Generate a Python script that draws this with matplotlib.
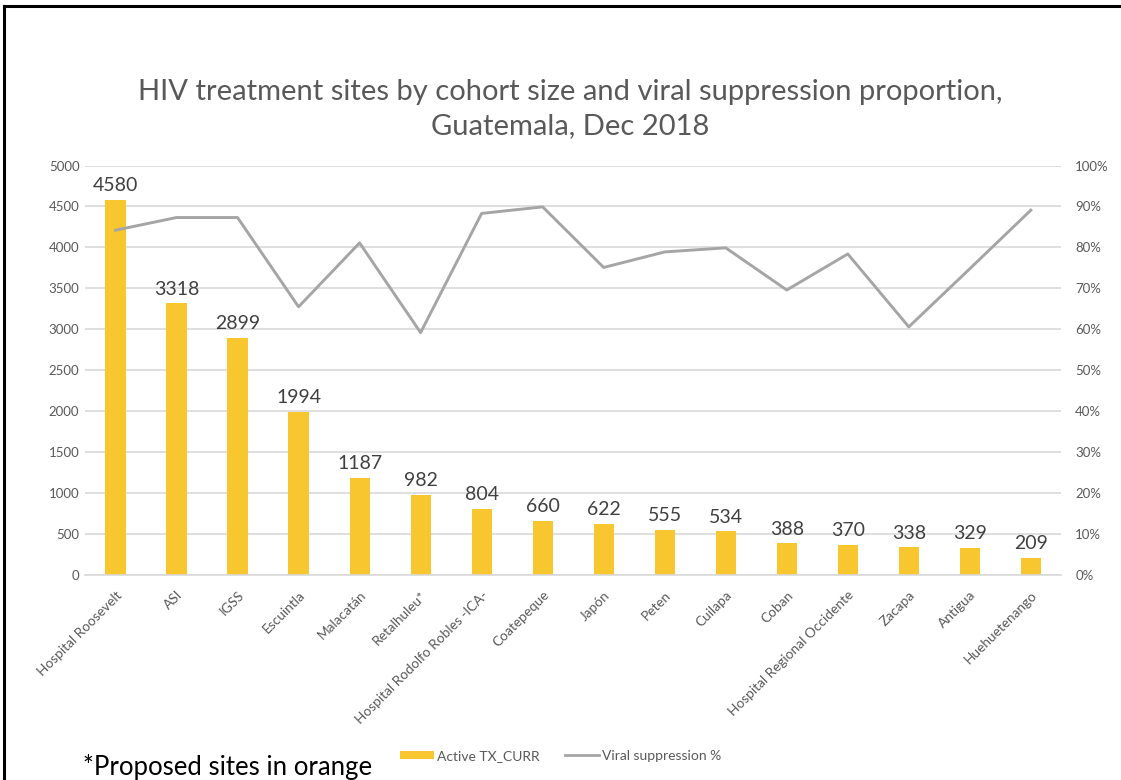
import matplotlib
matplotlib.use("Agg")
import matplotlib.pyplot as plt
from matplotlib.lines import Line2D
from matplotlib.patches import Patch
from matplotlib.ticker import FuncFormatter, MultipleLocator

sites = ["Hospital Roosevelt", "ASI", "IGSS", "Escuintla", "Malacatán",
         "Retalhuleu*", "Hospital Rodolfo Robles -ICA-", "Coatepeque", "Japón",
         "Peten", "Cuilapa", "Coban", "Hospital Regional Occidente", "Zacapa",
         "Antigua", "Huehuetenango"]
active_tx_curr = [4580, 3318, 2899, 1994, 1187, 982, 804, 660, 622, 555,
                  534, 388, 370, 338, 329, 209]
viral_suppression = [84.2, 87.3, 87.3, 65.5, 81.1, 59.2, 88.3, 89.9, 75.1,
                     78.9, 79.9, 69.6, 78.4, 60.6, 74.8, 89.1]

title = "HIV treatment sites by cohort size and viral suppression proportion,\nGuatemala, Dec 2018"
bar_color = "#F8C62F"
line_color = "#A5A5A5"
grid_color = "#D9D9D9"
text_gray = "#595959"

plt.rcParams["font.family"] = ["Lato", "DejaVu Sans"]

fig = plt.figure(figsize=(11.21, 7.80), dpi=100)
ax = fig.add_axes([0.0758, 0.2628, 0.871, 0.525])
ax2 = ax.twinx()

x = list(range(len(sites)))
ax.bar(x, active_tx_curr, width=0.33, color=bar_color, zorder=2)
for xi, v in zip(x, active_tx_curr):
    ax.text(xi, v + 70, str(v), ha="center", va="bottom", fontsize=14,
            color="#404040")

ax2.plot(x, viral_suppression, color=line_color, lw=2.1, zorder=3)

ax.set_xlim(-0.5, len(sites) - 0.5)
ax.set_ylim(0, 5000)
ax2.set_ylim(0, 100)
ax.yaxis.set_major_locator(MultipleLocator(500))
ax2.yaxis.set_major_locator(MultipleLocator(10))
ax2.yaxis.set_major_formatter(FuncFormatter(lambda v, p: f"{v:.0f}%"))

ax.grid(axis="y", color=grid_color, lw=1.2, zorder=0)
ax.set_axisbelow(True)
for a in (ax, ax2):
    for s in a.spines.values():
        s.set_visible(False)
ax.spines["bottom"].set_visible(True)
ax.spines["bottom"].set_color(grid_color)
ax.spines["bottom"].set_linewidth(1.2)

ax.set_xticks(x)
ax.set_xticklabels(sites, rotation=45, ha="right", rotation_mode="anchor",
                   fontsize=9.8, color=text_gray)
ax.tick_params(axis="x", length=0, pad=10)
ax.tick_params(axis="y", length=0, labelsize=9.5, labelcolor=text_gray, pad=4)
ax2.tick_params(axis="y", length=0, labelsize=9.5, labelcolor=text_gray, pad=10)

fig.text(0.509, 0.860, title, ha="center", va="center", fontsize=21,
         color=text_gray, linespacing=1.4)

handles = [Patch(facecolor=bar_color, edgecolor="none"),
           Line2D([0], [0], color=line_color, lw=2)]
fig.legend(handles, ["Active TX_CURR", "Viral suppression %"],
           loc="center", bbox_to_anchor=(0.5, 0.031), ncol=2, frameon=False,
           fontsize=10, handlelength=2.5, handleheight=0.55, columnspacing=1.8,
           handletextpad=0.2, labelcolor=text_gray)

fig.text(0.074, 0.0167, "*Proposed sites in orange", ha="left", va="center",
         fontsize=18.5, color="black")

# frame along the left and top edges
fig.add_artist(Line2D([0.004, 0.004], [0.0, 0.992], color="black", lw=2.2,
                      transform=fig.transFigure))
fig.add_artist(Line2D([0.004, 1.0], [0.992, 0.992], color="black", lw=2.2,
                      transform=fig.transFigure))

fig.savefig("out.png", dpi=100)
